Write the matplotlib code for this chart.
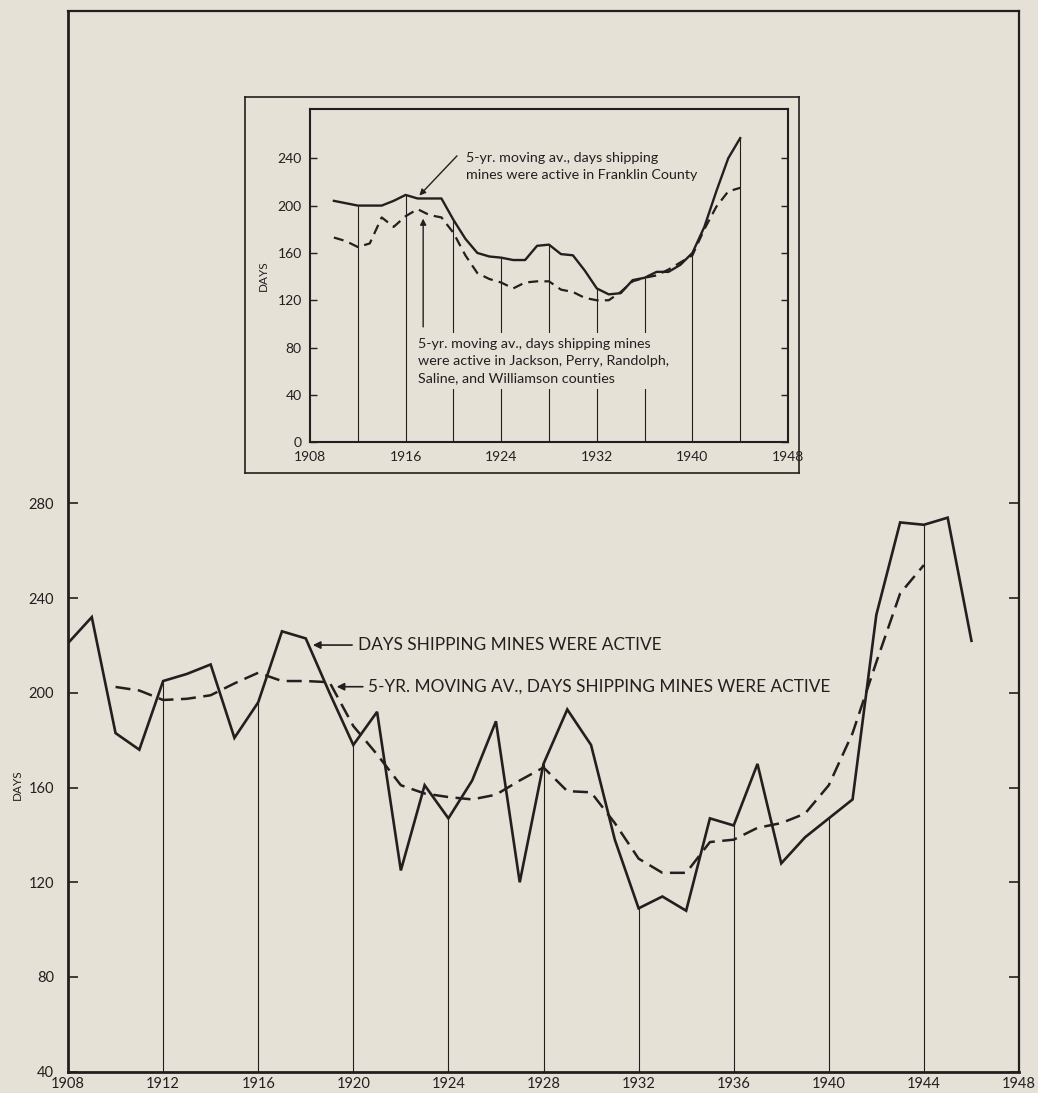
import matplotlib
matplotlib.use("Agg")
import matplotlib.pyplot as plt

plt.rcParams['font.family'] = ['Lato', 'DejaVu Sans']

BG = '#e5e1d7'
INK = '#231f1f'

# ---- main chart data: days shipping mines were active ----
years = list(range(1908, 1947))
days_active = [221, 232, 183, 176, 205, 208, 212, 181, 196, 226,
               223, 200, 178, 192, 125, 161, 147, 163, 188, 120,
               170, 193, 178, 138, 109, 114, 108, 147, 144, 170,
               128, 139, 147, 155, 233, 272, 271, 274, 222]

avg_years = list(range(1910, 1945))
days_avg = [202.5, 201, 197, 197.5, 199, 204, 208.5, 205, 205, 204.5,
            186, 174, 161, 157.5, 156, 155, 157, 163, 168.5, 158.5,
            158, 145, 130, 124, 124, 137, 138, 143, 145, 149,
            161, 183, 213, 242, 254]

# ---- inset data: 5-yr moving averages ----
franklin_avg = [204, 202, 200, 200, 200, 204, 209, 206, 206, 206,
                188, 172, 160, 157, 156, 154, 154, 166, 167, 159,
                158, 145, 130, 125, 126, 137, 139, 144, 144, 150,
                160, 182, 212, 240, 257]
others_avg = [173, 170, 165, 168, 190, 182, 191, 197, 192, 190,
              177, 158, 143, 138, 135, 130, 135, 136, 136, 129,
              127, 122, 120, 120, 127, 136, 139, 141, 146, 152,
              158, 180, 199, 212, 215]

drop_years = list(range(1912, 1945, 4))
main_xticks = list(range(1908, 1949, 4))
main_yticks = list(range(40, 281, 40))
inset_xticks = list(range(1908, 1949, 8))
inset_yticks = list(range(0, 241, 40))

W, H = 1038, 1093
fig = plt.figure(figsize=(W / 100, H / 100), dpi=100)
fig.patch.set_facecolor(BG)

# ===============================
# Main chart
# ===============================
ax = fig.add_axes([68 / W, 1 - 1071.7 / H, 951 / W, 1060.7 / H])
ax.set_facecolor(BG)
ax.set_xlim(1908, 1948)
ax.set_ylim(40, 488)

ax.plot(years, days_active, color=INK, lw=1.9, zorder=3, solid_joinstyle='miter')
ax.plot(avg_years, days_avg, color=INK, lw=1.8, dashes=(6, 3), zorder=3)

drop_vals = [days_active[years.index(y)] for y in drop_years]
ax.vlines(drop_years, 40, drop_vals, color=INK, lw=0.8, zorder=2)

ax.set_xticks(main_xticks)
ax.set_yticks(main_yticks)
ax.tick_params(axis='x', length=0, pad=3.5, labelsize=10.5, colors=INK)
ax.tick_params(axis='y', direction='in', length=7, width=1.2, pad=10,
               labelsize=10.5, colors=INK, right=True)
for side in ['left', 'bottom']:
    ax.spines[side].set_linewidth(2.0)
for side in ['top', 'right']:
    ax.spines[side].set_linewidth(1.6)
for sp in ax.spines.values():
    sp.set_color(INK)

fig.text(17 / W, 1 - 785 / H, 'DAYS', rotation=90, ha='center', va='center',
         fontsize=8.5, color=INK)

arrow_kw = dict(arrowstyle='-|>', color=INK, lw=1.2, mutation_scale=11,
                shrinkA=0, shrinkB=0)
ax.annotate('', xy=(1918.3, 220.2), xytext=(1919.95, 220.2), arrowprops=arrow_kw)
ax.text(1920.2, 220.2, 'DAYS SHIPPING MINES WERE ACTIVE', ha='left', va='center',
        fontsize=12.4, color=INK)
ax.annotate('', xy=(1919.3, 202.6), xytext=(1920.4, 202.6), arrowprops=arrow_kw)
ax.text(1920.62, 202.6, '5-YR. MOVING AV., DAYS SHIPPING MINES WERE ACTIVE',
        ha='left', va='center', fontsize=12.4, color=INK)

# ===============================
# Inset frame
# ===============================
box = fig.add_axes([245 / W, 1 - 473 / H, 554 / W, 376 / H])
box.set_facecolor(BG)
box.set_xticks([])
box.set_yticks([])
for sp in box.spines.values():
    sp.set_linewidth(1.2)
    sp.set_color(INK)

# ===============================
# Inset chart
# ===============================
ins = fig.add_axes([310 / W, 1 - 442.3 / H, 478 / W, 333.3 / H])
ins.set_facecolor(BG)
ins.set_xlim(1908, 1948)
ins.set_ylim(0, 281.6)

ins.plot(avg_years, franklin_avg, color=INK, lw=1.7, zorder=3)
ins.plot(avg_years, others_avg, color=INK, lw=1.6, dashes=(4.5, 2.8), zorder=3)

inset_drop = [franklin_avg[avg_years.index(y)] for y in drop_years]
ins.vlines(drop_years, 0, inset_drop, color=INK, lw=0.8, zorder=1)

ins.set_xticks(inset_xticks)
ins.set_yticks(inset_yticks)
ins.tick_params(axis='x', length=0, pad=6, labelsize=10, colors=INK)
ins.tick_params(axis='y', direction='in', length=5, width=1.0, pad=6,
                labelsize=10, colors=INK, right=True)
for sp in ins.spines.values():
    sp.set_linewidth(1.5)
    sp.set_color(INK)
ins.set_ylabel('DAYS', fontsize=8.5, color=INK, labelpad=6)

small_arrow = dict(arrowstyle='-|>', color=INK, lw=1.0, mutation_scale=9,
                   shrinkA=0, shrinkB=0)
ins.annotate('', xy=(1917.15, 208.5), xytext=(1920.3, 242), arrowprops=small_arrow,
             zorder=4)
ins.text(1921.05, 233.2,
         '5-yr. moving av., days shipping\nmines were active in Franklin County',
         ha='left', va='center', fontsize=10.3, color=INK, linespacing=1.5, zorder=4)

ins.annotate('', xy=(1917.47, 189), xytext=(1917.47, 97.5), arrowprops=small_arrow,
             zorder=4)
ins.text(1917.04, 68.8,
         '5-yr. moving av., days shipping mines\nwere active in Jackson, Perry, Randolph,\n'
         'Saline, and Williamson counties',
         ha='left', va='center', fontsize=10.3, color=INK, linespacing=1.5, zorder=4,
         bbox=dict(boxstyle='square,pad=0.35', fc=BG, ec='none'))

fig.savefig('out.png', dpi=100, facecolor=BG)
